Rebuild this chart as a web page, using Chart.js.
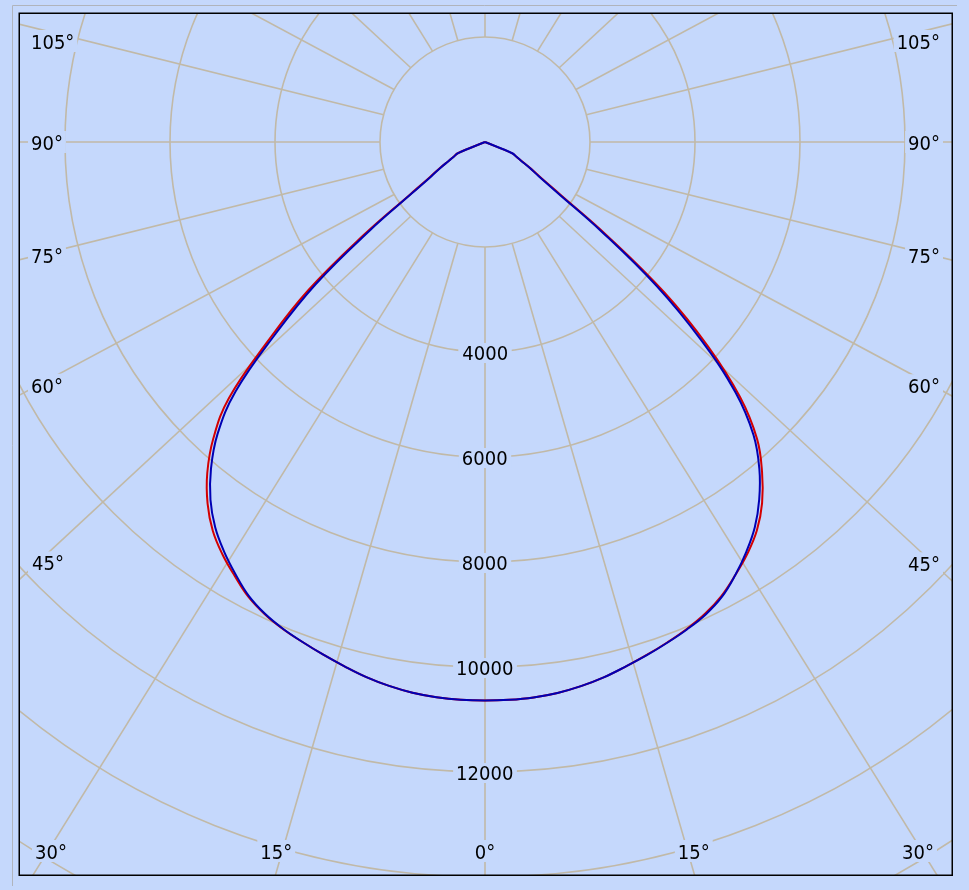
<!DOCTYPE html>
<html><head><meta charset="utf-8">
<script src="https://cdn.jsdelivr.net/npm/chart.js@4.4.0/dist/chart.umd.min.js"></script>
<style>html,body{margin:0;padding:0;background:#C5D8FC;overflow:hidden}#wrap{width:969px;height:890px}</style>
</head><body><div id="wrap"><canvas id="c" width="969" height="890"></canvas></div>
<script>
// gamma angles (degrees from nadir)
const gammaAngles = [0,2.5,5,7.5,10,12.5,15,17.5,20,22.5,25,27.5,30,32.5,35,37.5,40,42.5,45,47.5,50,52.5,55,57.5,60,62.5,65,67.5,70,72.5,75,77.5,80,82.5,85,87.5,90];
// luminous intensity (cd) per C-plane
const redC0    = [10640,10635,10620,10585,10525,10445,10345,10245,10145,10040,9915,9750,9530,9300,9030,8670,8210,7670,6870,5760,4460,2930,1760,1250,995,785,660,565,0,0,0,0,0,0,0,0,0];
const redC180  = [10640,10635,10615,10580,10520,10440,10340,10240,10140,10045,9925,9765,9540,9310,9040,8680,8230,7660,6900,5600,4400,2920,1740,1240,990,780,655,560,0,0,0,0,0,0,0,0,0];
const blueC90  = [10640,10635,10620,10585,10525,10445,10345,10250,10150,10050,9935,9770,9530,9260,8960,8580,8130,7570,6750,5580,4270,2790,1690,1220,975,780,655,560,0,0,0,0,0,0,0,0,0];
const blueC270 = [10640,10635,10615,10580,10520,10440,10340,10240,10140,10040,9915,9745,9505,9250,8960,8590,8120,7540,6720,5420,4200,2760,1680,1210,970,775,650,555,0,0,0,0,0,0,0,0,0];
// grid
const ringValues = [2000,4000,6000,8000,10000,12000,14000,16000];
const ringLabelValues = [4000,6000,8000,10000,12000];
const rayAngles = [0,15,30,45,60,75,90,105,120,135,150,165,180,195,210,225,240,255,270,285,300,315,330,345];
const angleLabels = [0,15,30,45,60,75,90,105];

// styles / layout
const BG = 'rgb(197,216,252)';
const GRID = 'rgb(193,185,167)';
const FONT = "20px 'DejaVu Sans Condensed', 'DejaVu Sans', sans-serif";
const AREA = {left:19, top:13, right:952, bottom:875};
const CENTER = {x:485, y:142};
const PX_PER_CD = 105/2000;
const RAY_SQUASH = 0.928;

function pt(I, deg, side){ const t = deg*Math.PI/180; return {x: side*I*Math.sin(t), y: -I*Math.cos(t)}; }
function curve(left, right){
  const p = [];
  for (let i = gammaAngles.length-1; i >= 0; i--) p.push(pt(left[i], gammaAngles[i], -1));
  for (let i = 1; i < gammaAngles.length; i++) p.push(pt(right[i], gammaAngles[i], 1));
  return p;
}

function drawLabel(ctx, text, ax, cyc, mode){
  ctx.font = FONT; ctx.textAlign = 'left'; ctx.textBaseline = 'alphabetic';
  const m = ctx.measureText(text);
  const L = m.actualBoundingBoxLeft, R = m.actualBoundingBoxRight;
  const A = m.actualBoundingBoxAscent, D = m.actualBoundingBoxDescent;
  const w = L + R;
  let inkLeft = mode === 'left' ? ax : mode === 'right' ? ax - w : ax - w/2;
  const ox = inkLeft + L;
  const base = cyc + (A - D)/2;
  ctx.fillStyle = BG;
  ctx.fillRect(inkLeft - 4, base - A - 3, w + 8, A + D + 6);
  ctx.fillStyle = '#000';
  ctx.fillText(text, ox, base);
  return w;
}

const polarGrid = {
  id: 'polarGrid',
  beforeDraw(chart){
    const ctx = chart.ctx;
    ctx.save();
    ctx.fillStyle = BG; ctx.fillRect(0, 0, chart.width, chart.height);
    ctx.strokeStyle = 'rgb(176,180,188)'; ctx.lineWidth = 1;
    ctx.beginPath(); ctx.moveTo(12.5, 886); ctx.lineTo(12.5, 5.5); ctx.lineTo(957, 5.5); ctx.stroke();
    ctx.restore();
  },
  beforeDatasetsDraw(chart){
    const {ctx, chartArea: a, scales: {x, y}} = chart;
    const cx = x.getPixelForValue(0), cy = y.getPixelForValue(0);
    const rPx = v => x.getPixelForValue(v) - cx;
    ctx.save();
    ctx.beginPath(); ctx.rect(a.left, a.top, a.right - a.left, a.bottom - a.top); ctx.clip();
    ctx.strokeStyle = GRID; ctx.lineWidth = 1.6;
    ringValues.forEach(v => { ctx.beginPath(); ctx.arc(cx, cy, rPx(v), 0, Math.PI*2); ctx.stroke(); });
    const r0 = rPx(ringValues[0]);
    rayAngles.forEach(d => {
      const t = d*Math.PI/180, s = Math.sin(t), c = Math.cos(t);
      const sx = cx + r0*s, sy = cy + r0*c;
      ctx.beginPath(); ctx.moveTo(sx, sy); ctx.lineTo(sx + 2000*s, sy + 2000*RAY_SQUASH*c); ctx.stroke();
    });
    // ring labels
    ringLabelValues.forEach(v => drawLabel(ctx, String(v), cx, cy + rPx(v) + 1, 'center'));
    // angle labels
    const xl = a.left + 13, xr = a.right - 13, yb = a.bottom - 24, yt = a.top + 28, yhit = a.bottom - 10;
    angleLabels.forEach(d => {
      const sides = d === 0 ? [1] : [-1, 1];
      sides.forEach(side => {
        const t = d*Math.PI/180, s = Math.sin(t), c = Math.cos(t)*RAY_SQUASH;
        const ts = s > 1e-9 ? (side < 0 ? cx - xl : xr - cx)/s : Infinity;
        const tb = c > 1e-9 ? (yb - cy)/c : Infinity;
        const txt = d + '°';
        if (ts <= tb) {
          let yy = cy + ts*c; if (yy < yt) yy = yt;
          drawLabel(ctx, txt, side < 0 ? xl : xr, yy, side < 0 ? 'left' : 'right');
        } else {
          ctx.font = FONT;
          const m = ctx.measureText(txt); const w = m.actualBoundingBoxLeft + m.actualBoundingBoxRight;
          let xx = cx + side*((yhit - cy)/c)*s;
          xx = Math.max(a.left + 17 + w/2, Math.min(a.right - 19 - w/2, xx));
          drawLabel(ctx, txt, xx, yb, 'center');
        }
      });
    });
    ctx.restore();
  },
  afterDatasetsDraw(chart){
    const {ctx, chartArea: a} = chart;
    ctx.save(); ctx.strokeStyle = '#000'; ctx.lineWidth = 1.5;
    ctx.strokeRect(a.left + 0.25, a.top + 0.25, a.right - a.left, a.bottom - a.top);
    ctx.restore();
  }
};

new Chart(document.getElementById('c'), {
  type: 'scatter',
  data: { datasets: [
    { label: 'C0-C180', data: curve(redC180, redC0), showLine: true, borderColor: '#D40000', borderWidth: 2, pointRadius: 0, tension: 0.4, fill: false, order: 2 },
    { label: 'C90-C270', data: curve(blueC270, blueC90), showLine: true, borderColor: '#0000B4', borderWidth: 2, pointRadius: 0, tension: 0.4, fill: false, order: 1 }
  ]},
  options: {
    responsive: false, animation: false, devicePixelRatio: 1,
    layout: { padding: { left: AREA.left, top: AREA.top, right: 969 - AREA.right, bottom: 890 - AREA.bottom } },
    plugins: { legend: { display: false }, tooltip: { enabled: false } },
    scales: {
      x: { type: 'linear', display: false, min: -(CENTER.x - AREA.left)/PX_PER_CD, max: (AREA.right - CENTER.x)/PX_PER_CD },
      y: { type: 'linear', display: false, min: -(AREA.bottom - CENTER.y)/PX_PER_CD, max: (CENTER.y - AREA.top)/PX_PER_CD }
    }
  },
  plugins: [polarGrid]
});
</script></body></html>
